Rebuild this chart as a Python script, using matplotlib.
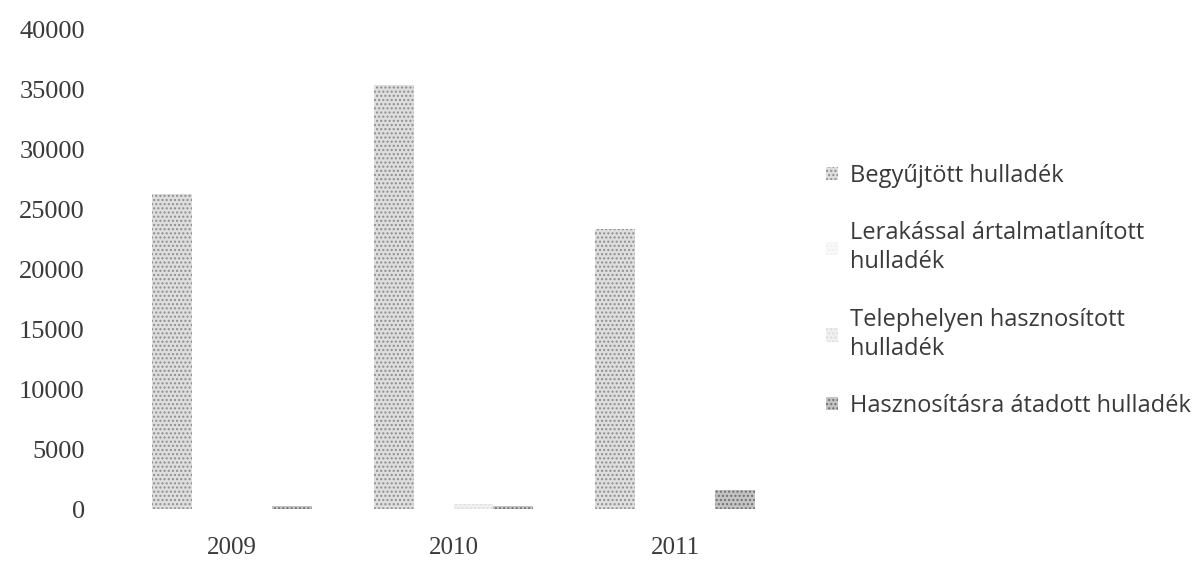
import matplotlib
matplotlib.use("Agg")
import matplotlib.pyplot as plt
import numpy as np

years = ["2009", "2010", "2011"]
series_names = [
    "Begyűjtött hulladék",
    "Lerakással ártalmatlanított\nhulladék",
    "Telephelyen hasznosított\nhulladék",
    "Hasznosításra átadott hulladék",
]
begyujtott = [26300, 35400, 23400]
lerakassal = [0, 0, 0]
telephelyen = [0, 450, 0]
hasznositasra = [250, 250, 1600]
values = [begyujtott, lerakassal, telephelyen, hasznositasra]
yticks = [0, 5000, 10000, 15000, 20000, 25000, 30000, 35000, 40000]

colors = ["#dedede", "#f8f8f8", "#f0f0f0", "#c4c4c4"]
hatch_colors = ["#8e8e8e", "#eeeeee", "#dddddd", "#6e6e6e"]

fig = plt.figure(figsize=(11.93, 5.79), dpi=100)
ax = fig.add_axes([121 / 1193, 70 / 579, (786 - 121) / 1193, 479 / 579])

x = np.arange(len(years))
w = 0.18
handles = []
for i, (name, vals) in enumerate(zip(series_names, values)):
    offs = (i - 1.5) * w
    b = ax.bar(x + offs, vals, width=w, facecolor=colors[i],
               edgecolor=hatch_colors[i], hatch="....", label=name,
               linewidth=0)
    handles.append(b)

ax.set_xlim(-0.5, 2.5)
ax.set_ylim(0, 40000)
ax.set_yticks(yticks)
ax.set_yticklabels([str(t) for t in yticks], fontfamily="Liberation Serif",
                   fontsize=19, color="#3a3a3a")
ax.set_xticks(x)
ax.set_xticklabels(years, fontfamily="Liberation Serif", fontsize=18,
                   color="#3a3a3a")
ax.tick_params(axis="y", length=0, pad=26)
ax.tick_params(axis="x", length=0, pad=20)
for s in ax.spines.values():
    s.set_visible(False)

leg = fig.legend(handles=handles, labels=series_names,
                 loc="upper left", bbox_to_anchor=(826 / 1193, 1 - 164 / 579),
                 frameon=False, prop={"family": "Open Sans", "size": 17},
                 handlelength=0.5, handleheight=0.5, handletextpad=0.5,
                 labelspacing=1.4, borderaxespad=0, borderpad=0)
for t in leg.get_texts():
    t.set_color("#3a3a3a")
    t.set_linespacing(1.3)

fig.savefig("out.png", dpi=100)
